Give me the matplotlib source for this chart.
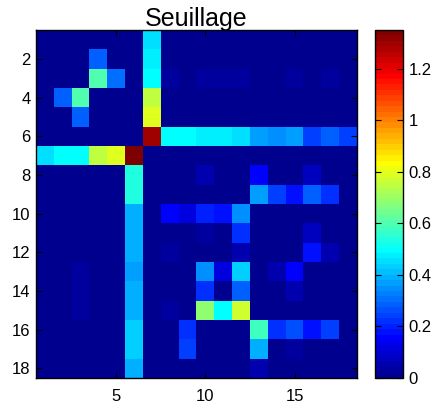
import numpy as np
import matplotlib
matplotlib.use("Agg")
import matplotlib.pyplot as plt
from matplotlib.colors import ListedColormap

plt.rcParams['font.family'] = ['Liberation Sans', 'DejaVu Sans']

# Thresholded weight matrix, one list per row (rows 1..18, columns 1..18)
row_01 = [0, 0, 0, 0, 0, 0, 0.45, 0, 0, 0, 0, 0, 0, 0, 0, 0, 0, 0]
row_02 = [0, 0, 0, 0.29, 0, 0, 0.475, 0, 0, 0, 0, 0, 0, 0, 0, 0, 0, 0]
row_03 = [0, 0, 0, 0.60, 0.31, 0, 0.49, 0.03, 0, 0.03, 0.03, 0.03, 0, 0, 0.03, 0, 0.03, 0]
row_04 = [0, 0.29, 0.60, 0, 0, 0, 0.75, 0, 0, 0, 0, 0, 0, 0, 0, 0, 0, 0]
row_05 = [0, 0, 0.29, 0, 0, 0, 0.79, 0, 0, 0, 0, 0, 0, 0, 0, 0, 0, 0]
row_06 = [0, 0, 0, 0, 0, 0, 1.29, 0.50, 0.50, 0.475, 0.475, 0.45, 0.37, 0.35, 0.37, 0.24, 0.285, 0.24]
row_07 = [0.45, 0.49, 0.50, 0.75, 0.80, 1.35, 0, 0, 0, 0, 0, 0, 0, 0, 0, 0, 0, 0]
row_08 = [0, 0, 0, 0, 0, 0.54, 0, 0, 0, 0.05, 0, 0, 0.16, 0, 0, 0.074, 0, 0]
row_09 = [0, 0, 0, 0, 0, 0.54, 0, 0, 0, 0, 0, 0, 0.37, 0.24, 0.18, 0.285, 0.22, 0]
row_10 = [0, 0, 0, 0, 0, 0.39, 0, 0.16, 0.11, 0.20, 0.18, 0.35, 0, 0, 0, 0, 0, 0]
row_11 = [0, 0, 0, 0, 0, 0.39, 0, 0, 0, 0.03, 0, 0.22, 0, 0, 0, 0.08, 0, 0]
row_12 = [0, 0, 0, 0, 0, 0.39, 0, 0.03, 0, 0, 0, 0.05, 0, 0, 0, 0.18, 0.05, 0]
row_13 = [0, 0, 0.03, 0, 0, 0.37, 0, 0, 0, 0.35, 0.12, 0.43, 0, 0.06, 0.16, 0, 0, 0]
row_14 = [0, 0, 0.03, 0, 0, 0.40, 0, 0, 0, 0.22, 0, 0.29, 0, 0, 0.05, 0, 0, 0]
row_15 = [0, 0, 0.03, 0, 0, 0.40, 0, 0.03, 0, 0.685, 0.50, 0.77, 0, 0, 0, 0, 0, 0]
row_16 = [0, 0, 0, 0, 0, 0.43, 0, 0, 0.22, 0, 0, 0, 0.58, 0.22, 0.26, 0.17, 0.24, 0]
row_17 = [0, 0, 0, 0, 0, 0.43, 0, 0, 0.24, 0, 0, 0, 0.40, 0, 0.04, 0, 0, 0]
row_18 = [0, 0, 0, 0, 0, 0.40, 0, 0, 0, 0, 0, 0, 0.05, 0, 0, 0, 0, 0]

title_text = "Seuillage"
x_ticks = [5, 10, 15]
y_ticks = [2, 4, 6, 8, 10, 12, 14, 16, 18]
cbar_ticks = [0, 0.2, 0.4, 0.6, 0.8, 1.0, 1.2]
cbar_labels = ["0", "0.2", "0.4", "0.6", "0.8", "1", "1.2"]

weights = np.array([row_01, row_02, row_03, row_04, row_05, row_06,
                    row_07, row_08, row_09, row_10, row_11, row_12,
                    row_13, row_14, row_15, row_16, row_17, row_18])


def jet64(n=64):
    """Classic 64-step jet colormap."""
    m = int(np.ceil(n / 4))
    u = np.concatenate([np.arange(1, m + 1) / m, np.ones(m - 1), np.arange(m, 0, -1) / m])
    g = int(np.ceil(m / 2)) - (1 if n % 4 == 1 else 0) + np.arange(1, len(u) + 1)
    r = g + m
    b = g - m
    g = g[g <= n]
    r = r[r <= n]
    b = b[b >= 1]
    J = np.zeros((n, 3))
    J[r - 1, 0] = u[:len(r)]
    J[g - 1, 1] = u[:len(g)]
    J[b - 1, 2] = u[len(u) - len(b):]
    return ListedColormap(J)


cmap = jet64()
n = weights.shape[0]

fig = plt.figure(figsize=(4.36, 4.08), dpi=100)
W, H = 436.0, 408.0
ax = fig.add_axes([36 / W, 1 - 378 / H, (357 - 36) / W, (378 - 30) / H])
cax = fig.add_axes([375 / W, 1 - 378 / H, 28 / W, (378 - 30) / H])

im = ax.imshow(weights, cmap=cmap, vmin=0, vmax=weights.max(),
               extent=(0.5, n + 0.5, n + 0.5, 0.5), aspect='auto',
               interpolation='nearest')

ax.set_xticks(x_ticks)
ax.set_yticks(y_ticks)
ax.tick_params(axis='both', direction='in', length=4, width=0.8,
               top=True, right=True, labelsize=12, colors='black')
ax.tick_params(axis='x', pad=8)
ax.tick_params(axis='y', pad=4)
for s in ax.spines.values():
    s.set_linewidth(1.0)
ax.set_title(title_text, fontsize=18, pad=3)

cb = fig.colorbar(im, cax=cax)
cb.set_ticks(cbar_ticks)
cb.set_ticklabels(cbar_labels)
cax.tick_params(direction='in', length=4, width=0.8, left=True, right=True,
                labelsize=12, pad=4)
cb.outline.set_linewidth(1.0)

fig.savefig("out.png", dpi=100)
